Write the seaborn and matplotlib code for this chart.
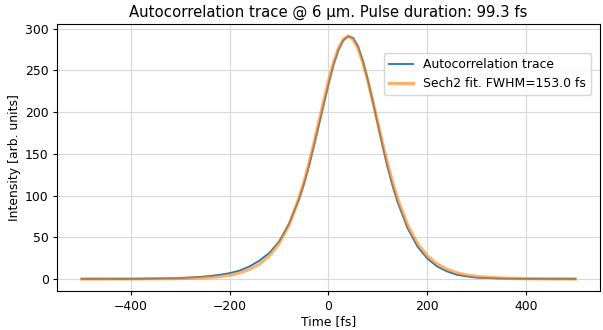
import matplotlib
matplotlib.use("Agg")
import matplotlib.pyplot as plt
import seaborn as sns
import pandas as pd

# time axis [fs]
time_fs = [-500, -400, -300, -260, -240, -220, -200, -180, -160, -140, -120, -100,
           -80, -60, -50, -40, -30, -20, -10, 0, 10, 20, 30, 40, 50, 60, 70, 80,
           90, 100, 110, 120, 130, 140, 160, 180, 200, 220, 240, 260, 280, 300,
           350, 400, 500]

# measured autocorrelation trace
trace = [0, 0, 1.0, 2.5, 3.5, 5.0, 7.0, 10.0, 15.0, 22.0, 31.0, 45.0,
         66.0, 95.0, 113.0, 134.0, 158.0, 183.0, 208.0, 233.0, 256.0, 274.0, 286.0, 291.0, 289.0, 279.0, 261.0, 238.0,
         212.0, 185.0, 158.0, 133.0, 111.0, 92.0, 61.0, 39.0, 24.5, 15.0, 9.0, 5.0, 3.0, 1.5,
         0.5, 0.1, 0]

# sech2 fit
fit = [0, 0.1, 0.5, 1.2, 1.8, 2.9, 4.6, 7.3, 11.6, 17.8, 27.7, 42.7,
       64.8, 96.2, 115.6, 137.4, 161.3, 186.6, 212.3, 237.0, 258.8, 276.1, 287.2, 291.0, 287.2, 276.1, 258.8, 237.0,
       212.3, 186.6, 161.3, 137.4, 115.6, 96.2, 64.8, 42.7, 27.7, 17.8, 11.6, 7.3, 4.6, 2.9,
       0.9, 0.3, 0]

df = pd.DataFrame({'t': time_fs, 'trace': trace, 'fit': fit})

fs = 8.9
fig, ax = plt.subplots(figsize=(6.03, 3.3), dpi=100)
sns.lineplot(data=df, x='t', y='trace', ax=ax, color='C0', lw=1.3,
             label='Autocorrelation trace')
sns.lineplot(data=df, x='t', y='fit', ax=ax, color='C1', lw=2.4, alpha=0.6,
             label='Sech2 fit. FWHM=153.0 fs')

ax.grid(True, color='#d8d8d8', lw=0.8)
ax.set_xticks([-400, -200, 0, 200, 400])
ax.set_yticks([0, 50, 100, 150, 200, 250, 300])
ax.tick_params(labelsize=fs, length=3.1, pad=3)
ax.set_xlabel('Time [fs]', fontsize=fs, labelpad=2)
ax.set_ylabel('Intensity [arb. units]', fontsize=fs, labelpad=3)
ax.set_title('Autocorrelation trace @ 6 µm. Pulse duration: 99.3 fs', fontsize=10.7, pad=5)
ax.legend(loc='upper right', bbox_to_anchor=(0.995, 0.915), fontsize=fs)

fig.subplots_adjust(left=0.0945, right=0.995, top=0.927, bottom=0.118)
fig.savefig('out.png', dpi=100)
